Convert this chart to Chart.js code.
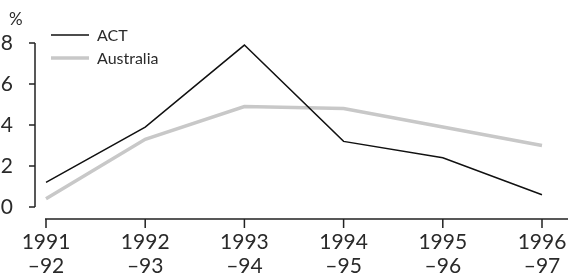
<!DOCTYPE html>
<html>
<head>
<meta charset="utf-8">
<script src="https://cdn.jsdelivr.net/npm/chart.js@4/dist/chart.umd.min.js"></script>
<style>
    html, body { margin: 0; padding: 0; background: #fff; }
    #wrap { width: 568px; height: 275px; position: relative; }
</style>
</head>
<body>
<div id="wrap"><canvas id="cvs"></canvas></div>
<script>
    const years = [['1991', '\u201392'], ['1992', '\u201393'], ['1993', '\u201394'], ['1994', '\u201395'], ['1995', '\u201396'], ['1996', '\u201397']];
    const actValues = [1.2, 3.9, 7.9, 3.2, 2.4, 0.6];
    const ausValues = [0.4, 3.3, 4.9, 4.8, 3.9, 3.0];
    const yTicks = [0, 2, 4, 6, 8];

    const FONT = 'Lato, "Liberation Sans", sans-serif';
    const INK = '#2a2a2a';

    // axes + legend drawn by hand, positions taken from the scales
    const decor = {
        id: 'decor',
        afterDraw(chart) {
            const { ctx, chartArea, scales: { x, y } } = chart;
            ctx.save();
            ctx.strokeStyle = '#222';
            ctx.lineWidth = 1.5;

            // y axis
            const ax = 35;
            ctx.beginPath();
            ctx.moveTo(ax, y.getPixelForValue(8));
            ctx.lineTo(ax, y.getPixelForValue(0));
            yTicks.forEach(v => {
                const py = y.getPixelForValue(v);
                ctx.moveTo(ax - 6, py);
                ctx.lineTo(ax, py);
            });
            ctx.stroke();

            // x axis
            const by = chartArea.bottom + 12;
            ctx.beginPath();
            ctx.moveTo(x.getPixelForValue(0) - 1, by);
            ctx.lineTo(chart.width, by);
            years.forEach((_, i) => {
                const px = x.getPixelForValue(i);
                ctx.moveTo(px, by);
                ctx.lineTo(px, by + 9);
            });
            ctx.stroke();

            // % unit
            ctx.fillStyle = INK;
            ctx.font = '17px ' + FONT;
            ctx.textAlign = 'left';
            ctx.textBaseline = 'middle';
            ctx.fillText('%', 9, 20);

            // legend
            ctx.font = '16px ' + FONT;
            chart.data.datasets.forEach((ds, i) => {
                const ly = 35 + i * 23;
                ctx.strokeStyle = ds.borderColor;
                ctx.lineWidth = ds.borderWidth;
                ctx.beginPath();
                ctx.moveTo(51, ly);
                ctx.lineTo(89, ly);
                ctx.stroke();
                ctx.fillStyle = INK;
                ctx.fillText(ds.label, 97, ly + 1);
            });
            ctx.restore();
        }
    };

    new Chart(document.getElementById('cvs'), {
        type: 'line',
        data: {
            labels: years,
            datasets: [
                { label: 'ACT', data: actValues, borderColor: '#111', borderWidth: 1.5, pointRadius: 0, tension: 0 },
                { label: 'Australia', data: ausValues, borderColor: '#c8c8c8', borderWidth: 3.5, pointRadius: 0, tension: 0 }
            ]
        },
        options: {
            responsive: true,
            maintainAspectRatio: false,
            animation: false,
            layout: { autoPadding: false, padding: { left: 0, right: 26, top: 43, bottom: 0 } },
            plugins: { legend: { display: false }, tooltip: { enabled: false } },
            scales: {
                x: {
                    type: 'category',
                    offset: false,
                    grid: { display: false },
                    border: { display: false },
                    ticks: {
                        color: INK, font: { family: FONT, size: 21, lineHeight: 1.15 },
                        padding: 15, maxRotation: 0, autoSkip: false
                    },
                    afterFit: (s) => { s.height = 68; s.paddingLeft = 0; s.paddingRight = 0; }
                },
                y: {
                    min: 0, max: 8,
                    grid: { display: false },
                    border: { display: false },
                    afterBuildTicks: (s) => { s.ticks = yTicks.map(v => ({ value: v })); },
                    ticks: { color: INK, font: { family: FONT, size: 21 }, padding: 25 },
                    afterFit: (s) => { s.width = 46; }
                }
            }
        },
        plugins: [decor]
    });
</script>
</body>
</html>
